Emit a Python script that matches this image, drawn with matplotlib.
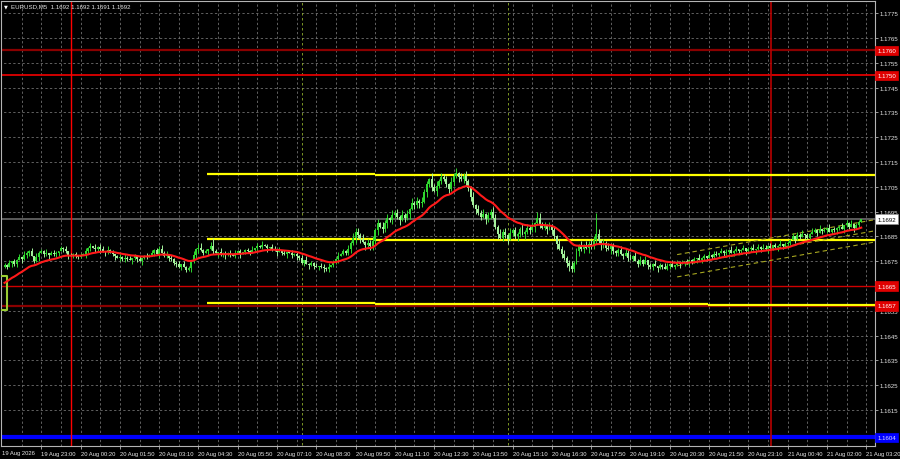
import numpy as np
import matplotlib.pyplot as plt
from matplotlib.transforms import blended_transform_factory

# --- data (EURUSD M5) ---
symbol_text = "EURUSD,M5  1.1692 1.1692 1.1691 1.1692"

first_open = 1.16728
closes = [
    1.16735, 1.16728, 1.16742, 1.16750, 1.16738, 1.16755, 1.16768, 1.16760, 1.16775, 1.16785,
    1.16792, 1.16770, 1.16752, 1.16768, 1.16785, 1.16790, 1.16778, 1.16783, 1.16775, 1.16782,
    1.16778, 1.16785, 1.16793, 1.16802, 1.16798, 1.16790, 1.16775, 1.16770, 1.16778, 1.16772,
    1.16768, 1.16775, 1.16780, 1.16790, 1.16802, 1.16812, 1.16805, 1.16798, 1.16808, 1.16800,
    1.16792, 1.16788, 1.16795, 1.16785, 1.16778, 1.16770, 1.16762, 1.16768, 1.16758, 1.16765,
    1.16760, 1.16755, 1.16762, 1.16770, 1.16758, 1.16752, 1.16765, 1.16772, 1.16768, 1.16775,
    1.16782, 1.16795, 1.16778, 1.16800, 1.16785, 1.16772, 1.16780, 1.16765, 1.16758, 1.16745,
    1.16738, 1.16728, 1.16740, 1.16725, 1.16715, 1.16722, 1.16750, 1.16775, 1.16798, 1.16805,
    1.16795, 1.16785, 1.16790, 1.16800, 1.16812, 1.16790, 1.16782, 1.16788, 1.16778, 1.16783,
    1.16775, 1.16782, 1.16778, 1.16772, 1.16785, 1.16790, 1.16780, 1.16788, 1.16795, 1.16790,
    1.16785, 1.16795, 1.16805, 1.16812, 1.16808, 1.16815, 1.16810, 1.16802, 1.16808, 1.16800,
    1.16795, 1.16788, 1.16792, 1.16785, 1.16780, 1.16788, 1.16782, 1.16775, 1.16780, 1.16772,
    1.16765, 1.16745, 1.16755, 1.16740, 1.16735, 1.16742, 1.16730, 1.16725, 1.16732, 1.16728,
    1.16722, 1.16718, 1.16728, 1.16735, 1.16745, 1.16760, 1.16772, 1.16780, 1.16790, 1.16785,
    1.16800, 1.16822, 1.16845, 1.16868, 1.16855, 1.16840, 1.16828, 1.16815, 1.16825, 1.16812,
    1.16830, 1.16875, 1.16905, 1.16890, 1.16880, 1.16905, 1.16925, 1.16915, 1.16935, 1.16945,
    1.16930, 1.16918, 1.16935, 1.16925, 1.16940, 1.16960, 1.16985, 1.16975, 1.16995, 1.16985,
    1.16990, 1.17030, 1.17060, 1.17080, 1.17050, 1.17035, 1.17055, 1.17075, 1.17090, 1.17080,
    1.17060, 1.17040, 1.17070, 1.17095, 1.17105, 1.17090, 1.17080, 1.17095, 1.17075, 1.17045,
    1.17010, 1.16975, 1.16960, 1.16945, 1.16930, 1.16940, 1.16920, 1.16935, 1.16950, 1.16925,
    1.16890, 1.16860, 1.16845, 1.16870, 1.16855, 1.16840, 1.16865, 1.16875, 1.16850, 1.16862,
    1.16880, 1.16860, 1.16870, 1.16885, 1.16875, 1.16890, 1.16905, 1.16925, 1.16900, 1.16885,
    1.16895, 1.16880, 1.16890, 1.16875, 1.16850, 1.16820, 1.16800, 1.16780, 1.16765, 1.16745,
    1.16730, 1.16720, 1.16745, 1.16790, 1.16810, 1.16800, 1.16815, 1.16805, 1.16820, 1.16810,
    1.16835, 1.16860, 1.16830, 1.16815, 1.16825, 1.16805, 1.16800, 1.16810, 1.16790, 1.16785,
    1.16795, 1.16780, 1.16770, 1.16785, 1.16765, 1.16760, 1.16770, 1.16750, 1.16740, 1.16755,
    1.16740, 1.16755, 1.16735, 1.16725, 1.16740, 1.16730, 1.16722, 1.16735, 1.16728, 1.16720,
    1.16732, 1.16740, 1.16728, 1.16735, 1.16745, 1.16738, 1.16742, 1.16750, 1.16745, 1.16755,
    1.16748, 1.16758, 1.16765, 1.16755, 1.16762, 1.16770, 1.16765, 1.16775, 1.16768, 1.16780,
    1.16775, 1.16785, 1.16790, 1.16782, 1.16788, 1.16795, 1.16785, 1.16792, 1.16800, 1.16790,
    1.16795, 1.16802, 1.16790, 1.16798, 1.16805, 1.16795, 1.16800, 1.16808, 1.16798, 1.16805,
    1.16800, 1.16810, 1.16805, 1.16815, 1.16808, 1.16812, 1.16820, 1.16810, 1.16818, 1.16825,
    1.16835, 1.16850, 1.16840, 1.16858, 1.16848, 1.16862, 1.16855, 1.16845, 1.16860, 1.16868,
    1.16875, 1.16865, 1.16880, 1.16872, 1.16878, 1.16885, 1.16870, 1.16880, 1.16875, 1.16885,
    1.16890, 1.16880, 1.16895, 1.16905, 1.16890, 1.16900, 1.16885, 1.16895, 1.16910, 1.16920,
]
# wick lengths per bar, in half pips (one digit per bar, ten bars per chunk)
upper_wicks = (
    "2130212031" "1203121302" "3102130212" "0213120312" "2031201213"
    "1202130121" "3120312021" "1302120313" "4120312031" "2130212012"
    "1302131202" "2031201312" "1203121302" "2130213121" "3241324132"
    "4231423142" "3142314231" "4231524132" "3142413241" "2413241324"
    "3142314231" "2413241342" "3142314231" "2413241324" "3142314231"
    "2314231423" "1302130213" "2130213021" "1203120312" "2031203120"
    "1302130213" "2130213021" "1302130213" "2130213021" "1302130210"
)
lower_wicks = (
    "1203120312" "3021302130" "1230213012" "2103120213" "1320130212"
    "2031203120" "1203012312" "2130213123" "1203120312" "3120213021"
    "2013120312" "1302130213" "2130312021" "3120213012" "2314231423"
    "3241324132" "2413241324" "3142314231" "2413241342" "3142314231"
    "2413241324" "3142314231" "2413241324" "4231423142" "2314231423"
    "3120312031" "2031203120" "1302130213" "2130213021" "1203120312"
    "2031203120" "1302130213" "2031203120" "1302130213" "2031203120"
)
# larger visible wicks (bar index -> price)
wick_highs = {63: 1.16812, 85: 1.16842, 143: 1.16885, 184: 1.17115, 217: 1.16950, 241: 1.16945}
wick_lows = {74: 1.16708, 131: 1.16712, 231: 1.16705, 150: 1.16805}

ma_seed = 1.16663
ma_period = 20

# time axis
tick_bars = [15 + 16 * k for k in range(22)]
tick_labels = ["19 Aug 23:00", "20 Aug 00:20", "20 Aug 01:50", "20 Aug 03:10", "20 Aug 04:30",
               "20 Aug 05:50", "20 Aug 07:10", "20 Aug 08:30", "20 Aug 09:50", "20 Aug 11:10",
               "20 Aug 12:30", "20 Aug 13:50", "20 Aug 15:10", "20 Aug 16:30", "20 Aug 17:50",
               "20 Aug 19:10", "20 Aug 20:30", "20 Aug 21:50", "20 Aug 23:10", "21 Aug 00:40",
               "21 Aug 02:00", "21 Aug 03:20"]
first_label = "19 Aug 2026"
price_ticks = [round(1.1605 + 0.001 * k, 4) for k in range(18)]
hidden_ticks = [1.1665]   # covered by the level label in the original

# objects on the chart
day_breaks = [27, 312.3]
session_marks = [121, 205]
yellow_bounds = [82.6, 151, 286.7, 360]
yellow_top = [1.17103, 1.17099, 1.17097]
yellow_mid = [1.16840, 1.16837, 1.16835]
yellow_bot = [1.16582, 1.16576, 1.16573]
box_bars = [-3, 0.9]
box_prices = [1.16555, 1.16692]
channel_bars = [274, 354.6]
channel_mid = [1.16732, 1.16873]
channel_half = 0.00045
bid = 1.1692
blue_level = 1.1604

# --- figure ---
fig = plt.figure(figsize=(9, 4.6), dpi=100, facecolor='black')
ax = fig.add_axes([1 / 900, 13 / 460, 874 / 900, 445 / 460], facecolor='black')
ax.set_xlim(-1.43, 354.6)
ax.set_ylim(1.160052, 1.177996)

grid_kw = dict(colors='#7a7a7a', linewidth=0.55, linestyles=(0, (3, 3)), zorder=1)
ax.hlines(price_ticks, -5, 400, **grid_kw)
ax.vlines(np.arange(7, 355, 8), 1.15, 1.18, **grid_kw)

ax.vlines(session_marks, 1.15, 1.18, colors='#8fae2a', linewidth=0.6,
          linestyles=(0, (3, 3)), zorder=1.5)

# horizontal levels
ax.axhline(1.1760, color='#8a0000', lw=1.6, zorder=2)
ax.axhline(1.1750, color='#e00000', lw=1.3, zorder=2)
ax.axhline(1.1665, color='#d00000', lw=1.0, zorder=2)
ax.axhline(1.1657, color='#8a0000', lw=1.6, zorder=2)
ax.axhline(bid, color='#6a6a6a', lw=1.2, zorder=2)
ax.axhline(blue_level, color='#0000ff', lw=3, zorder=2)

for k in range(3):
    for lvl in (yellow_top, yellow_mid, yellow_bot):
        ax.plot([yellow_bounds[k], yellow_bounds[k + 1]], [lvl[k], lvl[k]],
                color='#ffff00', lw=1.6, solid_capstyle='butt', zorder=3)

ax.plot([box_bars[0], box_bars[1], box_bars[1], box_bars[0]],
        [box_prices[0], box_prices[0], box_prices[1], box_prices[1]],
        color='#9acd32', lw=1.5, zorder=3)

ax.axvline(day_breaks[0], color='#ff0000', lw=1.0, zorder=2.5)
ax.axvline(day_breaks[1], color='#b80000', lw=1.2, zorder=2.5)

# regression channel
for off in (-channel_half, 0, channel_half):
    ax.plot(channel_bars, [channel_mid[0] + off, channel_mid[1] + off],
            color='#a8a820', lw=0.8, ls=(0, (4, 3)), zorder=3.5)

# candles
c = np.array(closes)
n = len(c)
idx = np.arange(n)
o = np.r_[first_open, c[:-1]]
lo_b = np.minimum(o, c)
hi_b = np.maximum(o, c)
half_pip = 0.00005
highs = hi_b + np.array([int(ch) for ch in upper_wicks[:n]]) * half_pip
lows = lo_b - np.array([int(ch) for ch in lower_wicks[:n]]) * half_pip
for b, v in wick_highs.items():
    highs[b] = max(highs[b], v)
for b, v in wick_lows.items():
    lows[b] = min(lows[b], v)
cols = np.where(c >= o, '#2fd62f', '#a4f29c')
ax.vlines(idx, lows, highs, colors=cols, lw=0.7, zorder=4)
ax.bar(idx, np.maximum(hi_b - lo_b, 0.00004), bottom=lo_b, width=0.8,
       color=cols, linewidth=0, zorder=4)

# moving average
alpha = 2 / (ma_period + 1)
ma = [ma_seed]
for v in closes[1:]:
    ma.append(ma[-1] + alpha * (v - ma[-1]))
ax.plot(idx, ma, color='#ff1a1a', lw=1.5, zorder=5)

# axes styling
for s in ax.spines.values():
    s.set_color('#b4b4b4')
    s.set_linewidth(0.8)
ax.yaxis.tick_right()
ax.set_yticks(price_ticks)
ax.set_yticklabels(["" if p in hidden_ticks else f"{p:.4f}" for p in price_ticks])
ax.tick_params(axis='y', colors='#b4b4b4', labelcolor='#e6e6e6', length=2,
               width=0.6, pad=1, labelsize=4.4)
ax.set_xticks(tick_bars)
ax.set_xticklabels(tick_labels)
ax.tick_params(axis='x', colors='#b4b4b4', labelcolor='#e6e6e6', length=2,
               width=0.6, pad=1.5, labelsize=4.2)
for lab in ax.get_xticklabels() + ax.get_yticklabels():
    lab.set_fontfamily('Liberation Sans')
for lab in ax.get_xticklabels():
    lab.set_ha('left')
ax.text(-1.0, -0.008, first_label, transform=blended_transform_factory(ax.transData, ax.transAxes),
        color='#e6e6e6', fontsize=4.2, family='Liberation Sans', ha='left', va='top')

# price labels on the right scale
trans = blended_transform_factory(ax.transAxes, ax.transData)
level_labels = [(1.1760, '1.1760', '#e00000', 'white'),
                (1.1750, '1.1750', '#e00000', 'white'),
                (bid, '1.1692', 'white', 'black'),
                (1.1665, '1.1665', '#e00000', 'white'),
                (1.1657, '1.1657', '#e00000', 'white'),
                (blue_level, '1.1604', '#0000ff', '#d8d8ff')]
for p, t, bg, fg in level_labels:
    ax.text(1.0025, p, t, transform=trans, fontsize=4.4, family='Liberation Sans',
            color=fg, ha='left', va='center', clip_on=False, zorder=10,
            bbox=dict(boxstyle='square,pad=0.35', fc=bg, ec='#909090' if bg == 'white' else bg, lw=0.5))

# symbol header
fig.text(4 / 900, 1 - 7 / 460, "\u25bc", color='white', fontsize=3.6, va='center')
fig.text(11 / 900, 1 - 6.5 / 460, symbol_text, color='#e6e6e6', fontsize=4.4,
         family='Liberation Sans', va='center')

fig.savefig('out.png', dpi=100, facecolor='black')
